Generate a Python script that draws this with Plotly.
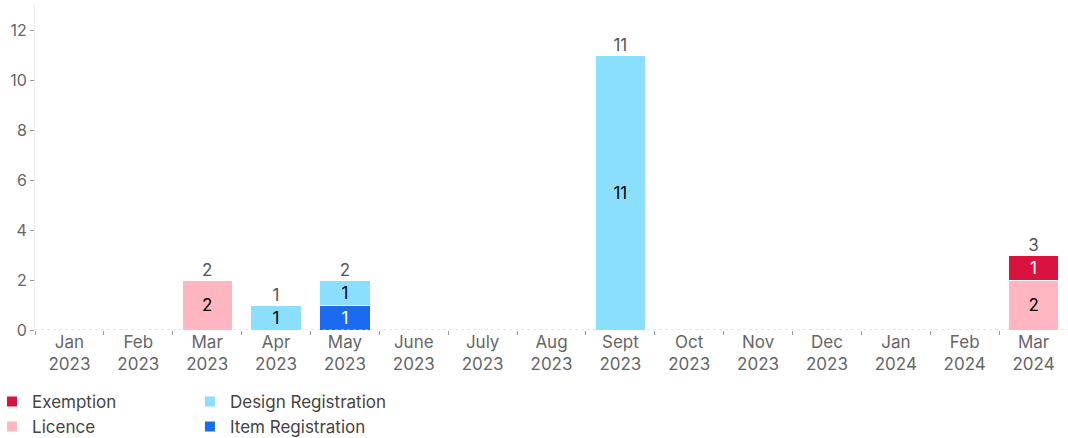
import plotly.graph_objects as go

months = ["Jan<br>2023", "Feb<br>2023", "Mar<br>2023", "Apr<br>2023", "May<br>2023",
          "June<br>2023", "July<br>2023", "Aug<br>2023", "Sept<br>2023", "Oct<br>2023",
          "Nov<br>2023", "Dec<br>2023", "Jan<br>2024", "Feb<br>2024", "Mar<br>2024"]
item_registration = [0, 0, 0, 0, 1, 0, 0, 0, 0, 0, 0, 0, 0, 0, 0]
licence = [0, 0, 2, 0, 0, 0, 0, 0, 0, 0, 0, 0, 0, 0, 2]
design_registration = [0, 0, 0, 1, 1, 0, 0, 0, 11, 0, 0, 0, 0, 0, 0]
exemption = [0, 0, 0, 0, 0, 0, 0, 0, 0, 0, 0, 0, 0, 0, 1]

series = [
    ("Item Registration", item_registration, "#1A6BF0", "white", "legend2"),
    ("Licence", licence, "#FFB6C1", "black", "legend"),
    ("Design Registration", design_registration, "#8ADFFF", "black", "legend2"),
    ("Exemption", exemption, "#D9123E", "white", "legend"),
]

font = "Inter, Roboto, sans-serif"
fig = go.Figure()
for name, vals, color, tcolor, lg in series:
    fig.add_trace(go.Bar(
        x=months, y=[v if v else None for v in vals], name=name, legend=lg,
        marker=dict(color=color, line=dict(color="white", width=1)),
        text=[str(v) if v else "" for v in vals],
        textposition="inside", insidetextanchor="middle", textangle=0,
        textfont=dict(color=tcolor, size=17, family=font),
        constraintext="none",
    ))

totals = [a + b + c + d for a, b, c, d in zip(item_registration, licence, design_registration, exemption)]
fig.add_trace(go.Scatter(
    x=[m for m, t in zip(months, totals) if t], y=[t for t in totals if t],
    text=[str(t) for t in totals if t], mode="text", textposition="top center",
    textfont=dict(color="#555555", size=17, family=font), showlegend=False, hoverinfo="skip",
))

fig.add_shape(type="line", xref="paper", yref="y", x0=0, x1=1, y0=0, y1=0,
              line=dict(color="#cccccc", width=1, dash="dot"))

legend_common = dict(orientation="v", xanchor="left", yanchor="top",
                     traceorder="reversed", font=dict(size=17, color="#444444"),
                     itemsizing="constant", tracegroupgap=0, bgcolor="rgba(0,0,0,0)")
fig.update_layout(
    width=1068, height=438, barmode="stack", bargap=0.27,
    plot_bgcolor="white", paper_bgcolor="white",
    margin=dict(l=35, r=0, t=5, b=108, autoexpand=False),
    font=dict(family=font, color="#555555", size=16),
    legend=dict(x=-0.0416, y=-0.166, **legend_common),
    legend2=dict(x=0.150, y=-0.166, **legend_common),
    xaxis=dict(range=[-0.5, len(months) - 0.5], showgrid=False, ticks="outside",
               tickson="boundaries", ticklen=4,
               tickcolor="#999999", tickfont=dict(size=17, color="#666666"),
               showline=False, automargin=False),
    yaxis=dict(range=[0, 13], showgrid=False, zeroline=False, showline=True,
               linecolor="#eeeeee", ticks="outside", ticklen=4, tickcolor="#999999",
               tickvals=[0, 2, 4, 6, 8, 10, 12], tickfont=dict(size=16, color="#666666"),
               automargin=False),
)
fig.write_html("out.html", config={"displayModeBar": False},
               post_script="document.body.style.margin='0';document.body.style.overflow='hidden';")
